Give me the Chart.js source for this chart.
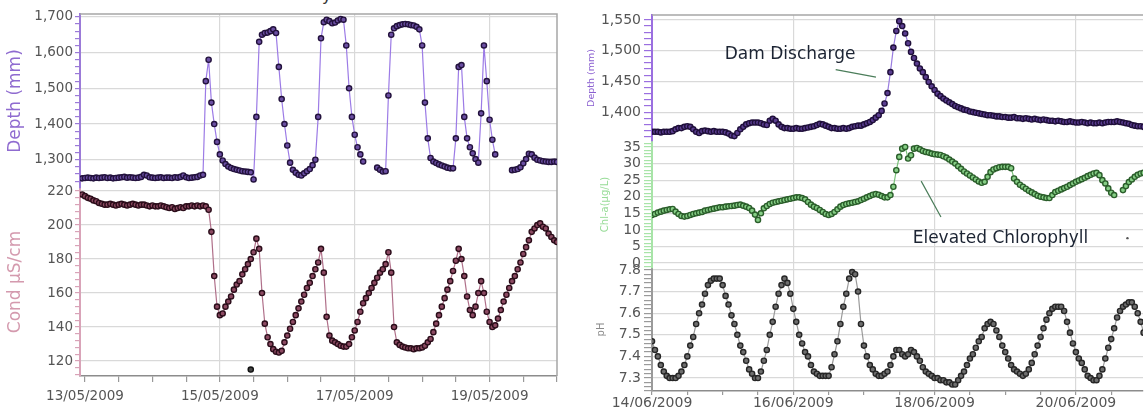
<!DOCTYPE html>
<html>
<head>
<meta charset="utf-8">
<script src="https://cdn.jsdelivr.net/npm/chart.js@4.4.1/dist/chart.umd.min.js"></script>
<style>
  body { margin: 0; width: 1147px; height: 407px; overflow: hidden; background: #fff; position: relative; font-family: "DejaVu Sans", sans-serif; }
  #leftChart { position: absolute; left: 0; top: 0; }
  #rightChart { position: absolute; left: 580px; top: 0; }
  .cut-title { position: absolute; left: 322px; top: -14px; font-size: 16px; color: #333; }
</style>
</head>
<body>
<div class="cut-title">y</div>
<canvas id="leftChart" width="570" height="407"></canvas>
<canvas id="rightChart" width="567" height="407"></canvas>
<script>
// ---- data: left panel (May 2009), hourly from 13/05 00:00, first value is hour -1
const leftStartHour = -1;
const leftDates = ['13/05/2009', '15/05/2009', '17/05/2009', '19/05/2009'];
const leftDepthTicks = [1300, 1400, 1500, 1600, 1700];
const leftCondTicks = [120, 140, 160, 180, 200, 220];

const leftDepth = [
  1248,1249,1250,1249,1248,1250,1249,1250,1251,1249,1250,1248,1249,1250,1251,1252,1250,1251,1250,1249,
  1250,1252,1258,1256,1251,1250,1249,1250,1251,1249,1250,1250,1249,1251,1250,1252,1256,1251,1249,1250,
  1251,1252,1256,
  1258,1520,1580,1460,1400,1350,1315,1298,1288,1281,1277,1274,1272,1270,1268,1267,1266,1265,1245,1420,
  1630,1650,1655,1656,1660,1665,1655,
  1560,1470,1400,1340,1292,1272,1264,1258,1256,1262,1268,1274,1285,1300,1420,1640,1685,1692,1688,1682,
  1684,1690,1694,1692,1620,1500,1420,1370,1335,1315,1295,
  null,null,null,null,
  1278,1272,1267,1268,1480,1650,1668,1674,1677,1679,1680,1679,1677,1676,1672,1665,1620,1460,1360,1305,
  1295,1291,1287,1284,1281,1278,1276,1276,
  1360,1560,1565,1420,1360,1335,1318,1302,1292,1430,1620,1520,1412,1356,1315,
  null,null,null,null,null,
  1271,1272,1274,1279,1290,1302,1317,1315,1306,1300,1298,1296,1295,1294,1294,1295,1294
];

const leftCond = [
  218,217,216,215.5,214.5,214,213,212.5,212,212,212.5,212,211.5,212,212.5,212,211.5,212,212.5,212,
  211.5,212,212,211.5,211,211.5,211,211,211.5,211,210.5,210,210.5,209.5,210,210.5,210,211,211,211.5,
  211,211.5,211,211.5,211,
  209,196,170,152,147,148,152,155,158,162,165,167,171,174,177,180,184,192,186,160,
  142,134,130,127,125.5,125,126,
  131,135,139,143,147,151,155,159,163,166,170,174,178,186,172,146,135,132,131,130,
  129,128.5,128.5,130,134,138,143,149,154,157,160,163,166,169,172,174,177,184,
  172,140,131,129.5,128.5,128,127.5,127.5,127,127.5,127.5,128,129,131,133,137,142,147,152,157,
  162,167,173,179,186,180,170,158,150,147,152,160,167,160,149,143,140,141,145,150,
  155,159,163,167,170,174,178,183,187,191,196,198,200,201,199,198,195,193,191,190
];
const condOutlier = [[59, 115]]; // [hour, value]

// ---- data: right panel (June 2009), hourly from 14/06 00:00
const rightStartHour = 0;
const rightDates = ['14/06/2009', '16/06/2009', '18/06/2009', '20/06/2009'];
const rightDepthTicks = [1400, 1450, 1500, 1550];
const chlTicks = [0, 5, 10, 15, 20, 25, 30, 35];
const phTicks = [7.3, 7.4, 7.5, 7.6, 7.7, 7.8];

const rightDepth = [
  1368,1368,1368,1367,1368,1368,1368,1369,1372,1374,
  1374,1376,1377,1376,1372,1368,1366,1369,1370,1369,
  1368,1369,1368,1368,1368,1367,1365,1362,1361,1366,
  1372,1376,1380,1382,1383,1383,1383,1382,1380,1379,
  1386,1389,1386,1380,1376,1374,1374,1373,1373,1374,
  1373,1373,1374,1375,1376,1377,1379,1381,1380,1378,
  1376,1374,1374,1373,1373,1374,1373,1374,1376,1377,
  1378,1378,1380,1382,1384,1387,1391,1395,1402,1414,
  1431,1465,1505,1532,1548,1540,1528,1512,1498,1488,
  1479,1471,1465,1457,1449,1442,1436,1430,1426,1422,
  1419,1416,1413,1410,1408,1406,1404,1403,1401,1400,
  1399,1398,1397,1396,1395,1395,1394,1393,1393,1392,
  1392,1391,1391,1392,1390,1390,1389,1390,1389,1388,
  1389,1388,1387,1388,1387,1386,1386,1385,1386,1385,
  1384,1384,1385,1384,1383,1383,1384,1383,1382,1383,
  1382,1382,1383,1382,1383,1384,1384,1384,1385,1384,
  1383,1382,1381,1379,1378,1377,1377,1376
];

const rightChl = [
  14.5,14.8,15.2,15.5,15.8,16,16.2,16.3,15.5,14.8,
  14.2,14,14.2,14.5,14.8,15,15.2,15.4,15.8,16,
  16.2,16.4,16.6,16.8,16.8,17,17.1,17.2,17.3,17.5,
  17.6,17.3,17,16.6,15.8,14.6,13,15,16.5,17.2,
  17.8,18.2,18.4,18.6,18.8,19,19.2,19.4,19.6,19.8,
  19.8,19.6,19.2,18.4,17.6,17,16.6,16,15.4,14.8,
  14.5,14.8,15.4,16.2,17,17.5,17.8,18,18.2,18.4,
  18.6,19,19.4,19.8,20.2,20.6,20.8,20.6,20.2,19.8,
  19.8,20.5,23,28,32,34.5,35,31.5,32.5,34.5,
  34.7,34.3,33.8,33.5,33.3,33,32.8,32.7,32.6,32.2,
  31.8,31.2,30.6,30,29.2,28.4,27.6,27,26.4,25.8,
  25.2,24.6,24.2,24.5,26,27.4,28.2,28.6,28.9,29,
  29,29,28.6,25.5,24.5,23.6,23,22.4,21.8,21.3,
  20.8,20.3,20,19.8,19.6,19.6,20.5,21.4,21.8,22.2,
  22.6,23,23.5,24,24.5,24.9,25.3,25.7,26.2,26.6,
  27,27.2,26.5,25,24,22.5,21.2,20.5,null,null,
  22,23.2,24.4,25.2,26,26.6,27,27.2
];

const rightPh = [
  7.47,7.43,7.40,7.36,7.33,7.31,7.30,7.30,7.30,7.31,
  7.33,7.36,7.40,7.45,7.49,7.55,7.60,7.64,7.69,7.73,
  7.75,7.76,7.76,7.76,7.73,7.68,7.64,7.59,7.55,7.50,
  7.45,7.42,7.38,7.34,7.32,7.30,7.30,7.33,7.38,7.43,
  7.50,7.56,7.63,7.69,7.73,7.76,7.74,7.69,7.62,7.56,
  7.50,7.46,7.42,7.40,7.36,7.33,7.32,7.31,7.31,7.31,
  7.31,7.35,7.41,7.47,7.55,7.63,7.69,7.76,7.79,7.78,
  7.70,7.55,7.45,7.40,7.36,7.34,7.32,7.31,7.31,7.32,
  7.33,7.36,7.40,7.43,7.43,7.41,7.40,7.41,7.43,7.42,
  7.40,7.38,7.35,7.33,7.32,7.31,7.30,7.30,7.29,7.29,
  7.28,7.28,7.27,7.27,7.29,7.31,7.33,7.36,7.39,7.41,
  7.44,7.47,7.49,7.53,7.55,7.56,7.55,7.52,7.49,7.45,
  7.42,7.39,7.36,7.34,7.33,7.32,7.31,7.32,7.34,7.37,
  7.41,7.45,7.49,7.53,7.57,7.60,7.62,7.63,7.63,7.63,
  7.61,7.56,7.51,7.46,7.42,7.39,7.37,7.34,7.31,7.30,
  7.29,7.29,7.31,7.34,7.39,7.44,7.48,7.53,7.58,7.61,
  7.63,7.64,7.65,7.65,7.63,7.60,7.56,7.51
];

// ---- helpers
const FONT = '"DejaVu Sans", Verdana, sans-serif';
const GRID = '#d9d9d9';
const NONE = 'rgba(0,0,0,0)';

// major ticks carry labels + grid lines, minor ones are only small marks
function makeTicks(majors, step, min, max) {
  const ticks = [];
  for (let k = Math.ceil(min / step - 1e-9); k * step <= max + 1e-9; k++) {
    const v = Math.round(k * step * 1000) / 1000;
    ticks.push({ value: v, major: majors.some(m => Math.abs(m - v) < 1e-6) });
  }
  return ticks;
}

function yScale(o) {
  return {
    type: 'linear', position: 'left', stack: o.stack, stackWeight: o.weight,
    min: o.min, max: o.max,
    afterBuildTicks: s => { s.ticks = makeTicks(o.majors, o.minor, o.min, o.max); },
    afterFit: s => { s.width = o.width; },
    ticks: {
      autoSkip: false, color: '#555', padding: o.pad,
      font: { family: FONT, size: o.tickSize },
      callback: (v, i, t) => t[i].major ? o.format(v) : ''
    },
    grid: { color: c => c.tick && c.tick.major ? GRID : NONE, tickColor: o.axisColor, tickLength: o.tickLen, lineWidth: 1.2 },
    border: { color: o.axisColor, width: 2 },
    title: { display: true, text: o.title, color: o.titleColor, font: { family: FONT, size: o.titleSize }, padding: { top: o.titlePad, bottom: 0 } }
  };
}

function xScale(o) {
  const majorDays = [0, 2, 4, 6];
  return {
    type: 'linear', position: 'bottom', min: o.min, max: o.max,
    afterBuildTicks: s => { s.ticks = makeTicks(majorDays, 0.5, 0, o.max); },
    afterFit: s => { s.height = o.height; },
    ticks: {
      autoSkip: false, maxRotation: 0, minRotation: 0, color: '#555', padding: o.pad,
      font: { family: FONT, size: o.tickSize },
      callback: (v, i, t) => t[i].major ? o.labels[majorDays.indexOf(v)] : ''
    },
    grid: { color: c => c.tick && c.tick.major && c.tick.value > 0 ? GRID : NONE, tickColor: '#999', tickLength: o.tickLen, lineWidth: 1.2 },
    border: { color: '#8c8c8c', width: 1.5 }
  };
}

function series(values, startHour, yAxisID, style) {
  return Object.assign({
    data: values.map((v, i) => ({ x: (startHour + i) / 24, y: v })),
    yAxisID: yAxisID, spanGaps: false, tension: 0, borderWidth: 1.2,
    pointRadius: 2.6, pointBorderWidth: 1.4, pointHoverRadius: 0
  }, style);
}

const framePlugin = {
  id: 'frame',
  beforeDatasetsDraw(chart, args, opts) {
    const { ctx, chartArea: a } = chart;
    ctx.save();
    ctx.strokeStyle = '#a6a6a6';
    ctx.lineWidth = 1.5;
    ctx.beginPath();
    ctx.moveTo(a.left, a.top);
    ctx.lineTo(a.right, a.top);
    if (opts.right) ctx.lineTo(a.right, a.bottom);
    ctx.stroke();
    ctx.restore();
  }
};

// ---- left chart
new Chart(document.getElementById('leftChart'), {
  type: 'line',
  data: {
    datasets: [
      series(leftDepth, leftStartHour, 'yDepth', { borderColor: '#9c7be6', pointBackgroundColor: '#6b4fa3', pointBorderColor: '#23123d' }),
      series(leftCond, leftStartHour, 'yCond', { borderColor: '#b0708a', pointBackgroundColor: '#8c4a62', pointBorderColor: '#2b0d1a' }),
      {
        data: condOutlier.map(p => ({ x: p[0] / 24, y: p[1] })), yAxisID: 'yCond', showLine: false,
        pointRadius: 2.6, pointBorderWidth: 1.4, pointBackgroundColor: '#444', pointBorderColor: '#111'
      }
    ]
  },
  options: {
    responsive: false, animation: false, events: [],
    layout: { padding: { top: 14, right: 13, bottom: 0, left: 0 } },
    plugins: { legend: { display: false }, tooltip: { enabled: false }, frame: { right: true } },
    scales: {
      x: xScale({ min: -0.074, max: 7.0, labels: leftDates, height: 31, tickLen: 6, pad: 6, tickSize: 13.5 }),
      yCond: yScale({
        stack: 'left', weight: 188, min: 111.2, max: 221.8, majors: leftCondTicks, minor: 4,
        width: 80, pad: 2, tickLen: 5, tickSize: 13.5, axisColor: '#d9a3b8', format: v => String(v),
        title: 'Cond µS/cm', titleColor: '#d49aae', titleSize: 17, titlePad: 5
      }),
      yDepth: yScale({
        stack: 'left', weight: 174, min: 1221, max: 1708, majors: leftDepthTicks, minor: 20,
        width: 80, pad: 2, tickLen: 5, tickSize: 13.5, axisColor: '#9b7ad8', format: v => v.toLocaleString('en-US'),
        title: 'Depth (mm)', titleColor: '#8f6bd0', titleSize: 17, titlePad: 5
      })
    }
  },
  plugins: [framePlugin]
});

// ---- right chart annotations (placed in data units)
const notePlugin = {
  id: 'notes',
  afterDatasetsDraw(chart) {
    const { ctx, scales } = chart;
    const x = scales.x, d = scales.yDepth, c = scales.yChl;
    ctx.save();
    ctx.fillStyle = '#1c2433';
    ctx.font = '17px ' + FONT;
    ctx.textBaseline = 'middle';
    ctx.fillText('Dam Discharge', x.getPixelForValue(1.03), d.getPixelForValue(1493));
    ctx.fillText('Elevated Chlorophyll', x.getPixelForValue(3.69), c.getPixelForValue(7.5));
    ctx.strokeStyle = '#4b7d5a';
    ctx.lineWidth = 1.2;
    ctx.beginPath();
    ctx.moveTo(x.getPixelForValue(2.6), d.getPixelForValue(1469));
    ctx.lineTo(x.getPixelForValue(3.17), d.getPixelForValue(1457));
    ctx.moveTo(x.getPixelForValue(3.81), c.getPixelForValue(24.7));
    ctx.lineTo(x.getPixelForValue(4.09), c.getPixelForValue(13.9));
    ctx.stroke();
    ctx.fillStyle = '#555';
    ctx.beginPath();
    ctx.arc(x.getPixelForValue(6.73), c.getPixelForValue(7.5), 1.2, 0, Math.PI * 2);
    ctx.fill();
    ctx.restore();
  }
};

// ---- right chart
new Chart(document.getElementById('rightChart'), {
  type: 'line',
  data: {
    datasets: [
      series(rightDepth, rightStartHour, 'yDepth', { borderColor: '#9a7de0', pointBackgroundColor: '#5a3d90', pointBorderColor: '#1f0f3a' }),
      series(rightChl, rightStartHour, 'yChl', { borderColor: '#79c279', pointBackgroundColor: '#86cf86', pointBorderColor: '#2b5e2b' }),
      series(rightPh, rightStartHour, 'yPh', { borderColor: '#9a9a9a', pointBackgroundColor: '#6e6e6e', pointBorderColor: '#262626' })
    ]
  },
  options: {
    responsive: false, animation: false, events: [],
    layout: { padding: { top: 15, right: 0, bottom: 0, left: 0 } },
    plugins: { legend: { display: false }, tooltip: { enabled: false }, frame: { right: false } },
    scales: {
      x: xScale({ min: 0, max: 6.95, labels: rightDates, height: 16, tickLen: 4, pad: 0, tickSize: 14 }),
      yPh: yScale({
        stack: 'right', weight: 123, min: 7.24, max: 7.809, majors: phTicks, minor: 0.02,
        width: 72, pad: 3, tickLen: 8, tickSize: 14, axisColor: '#9a9a9a', format: v => v.toFixed(1),
        title: 'pH', titleColor: '#8a8a8a', titleSize: 10, titlePad: 15
      }),
      yChl: yScale({
        stack: 'right', weight: 127, min: -1.5, max: 36.8, majors: chlTicks, minor: 1,
        width: 72, pad: 3, tickLen: 8, tickSize: 14, axisColor: '#a8e4a8', format: v => String(v),
        title: 'Chl-a(µg/L)', titleColor: '#98dc98', titleSize: 10, titlePad: 19
      }),
      yDepth: yScale({
        stack: 'right', weight: 126, min: 1353, max: 1558, majors: rightDepthTicks, minor: 10,
        width: 72, pad: 3, tickLen: 8, tickSize: 14, axisColor: '#9b6fe0', format: v => v.toLocaleString('en-US'),
        title: 'Depth (mm)', titleColor: '#8a5fd0', titleSize: 9.5, titlePad: 6
      })
    }
  },
  plugins: [framePlugin, notePlugin]
});
</script>
</body>
</html>
